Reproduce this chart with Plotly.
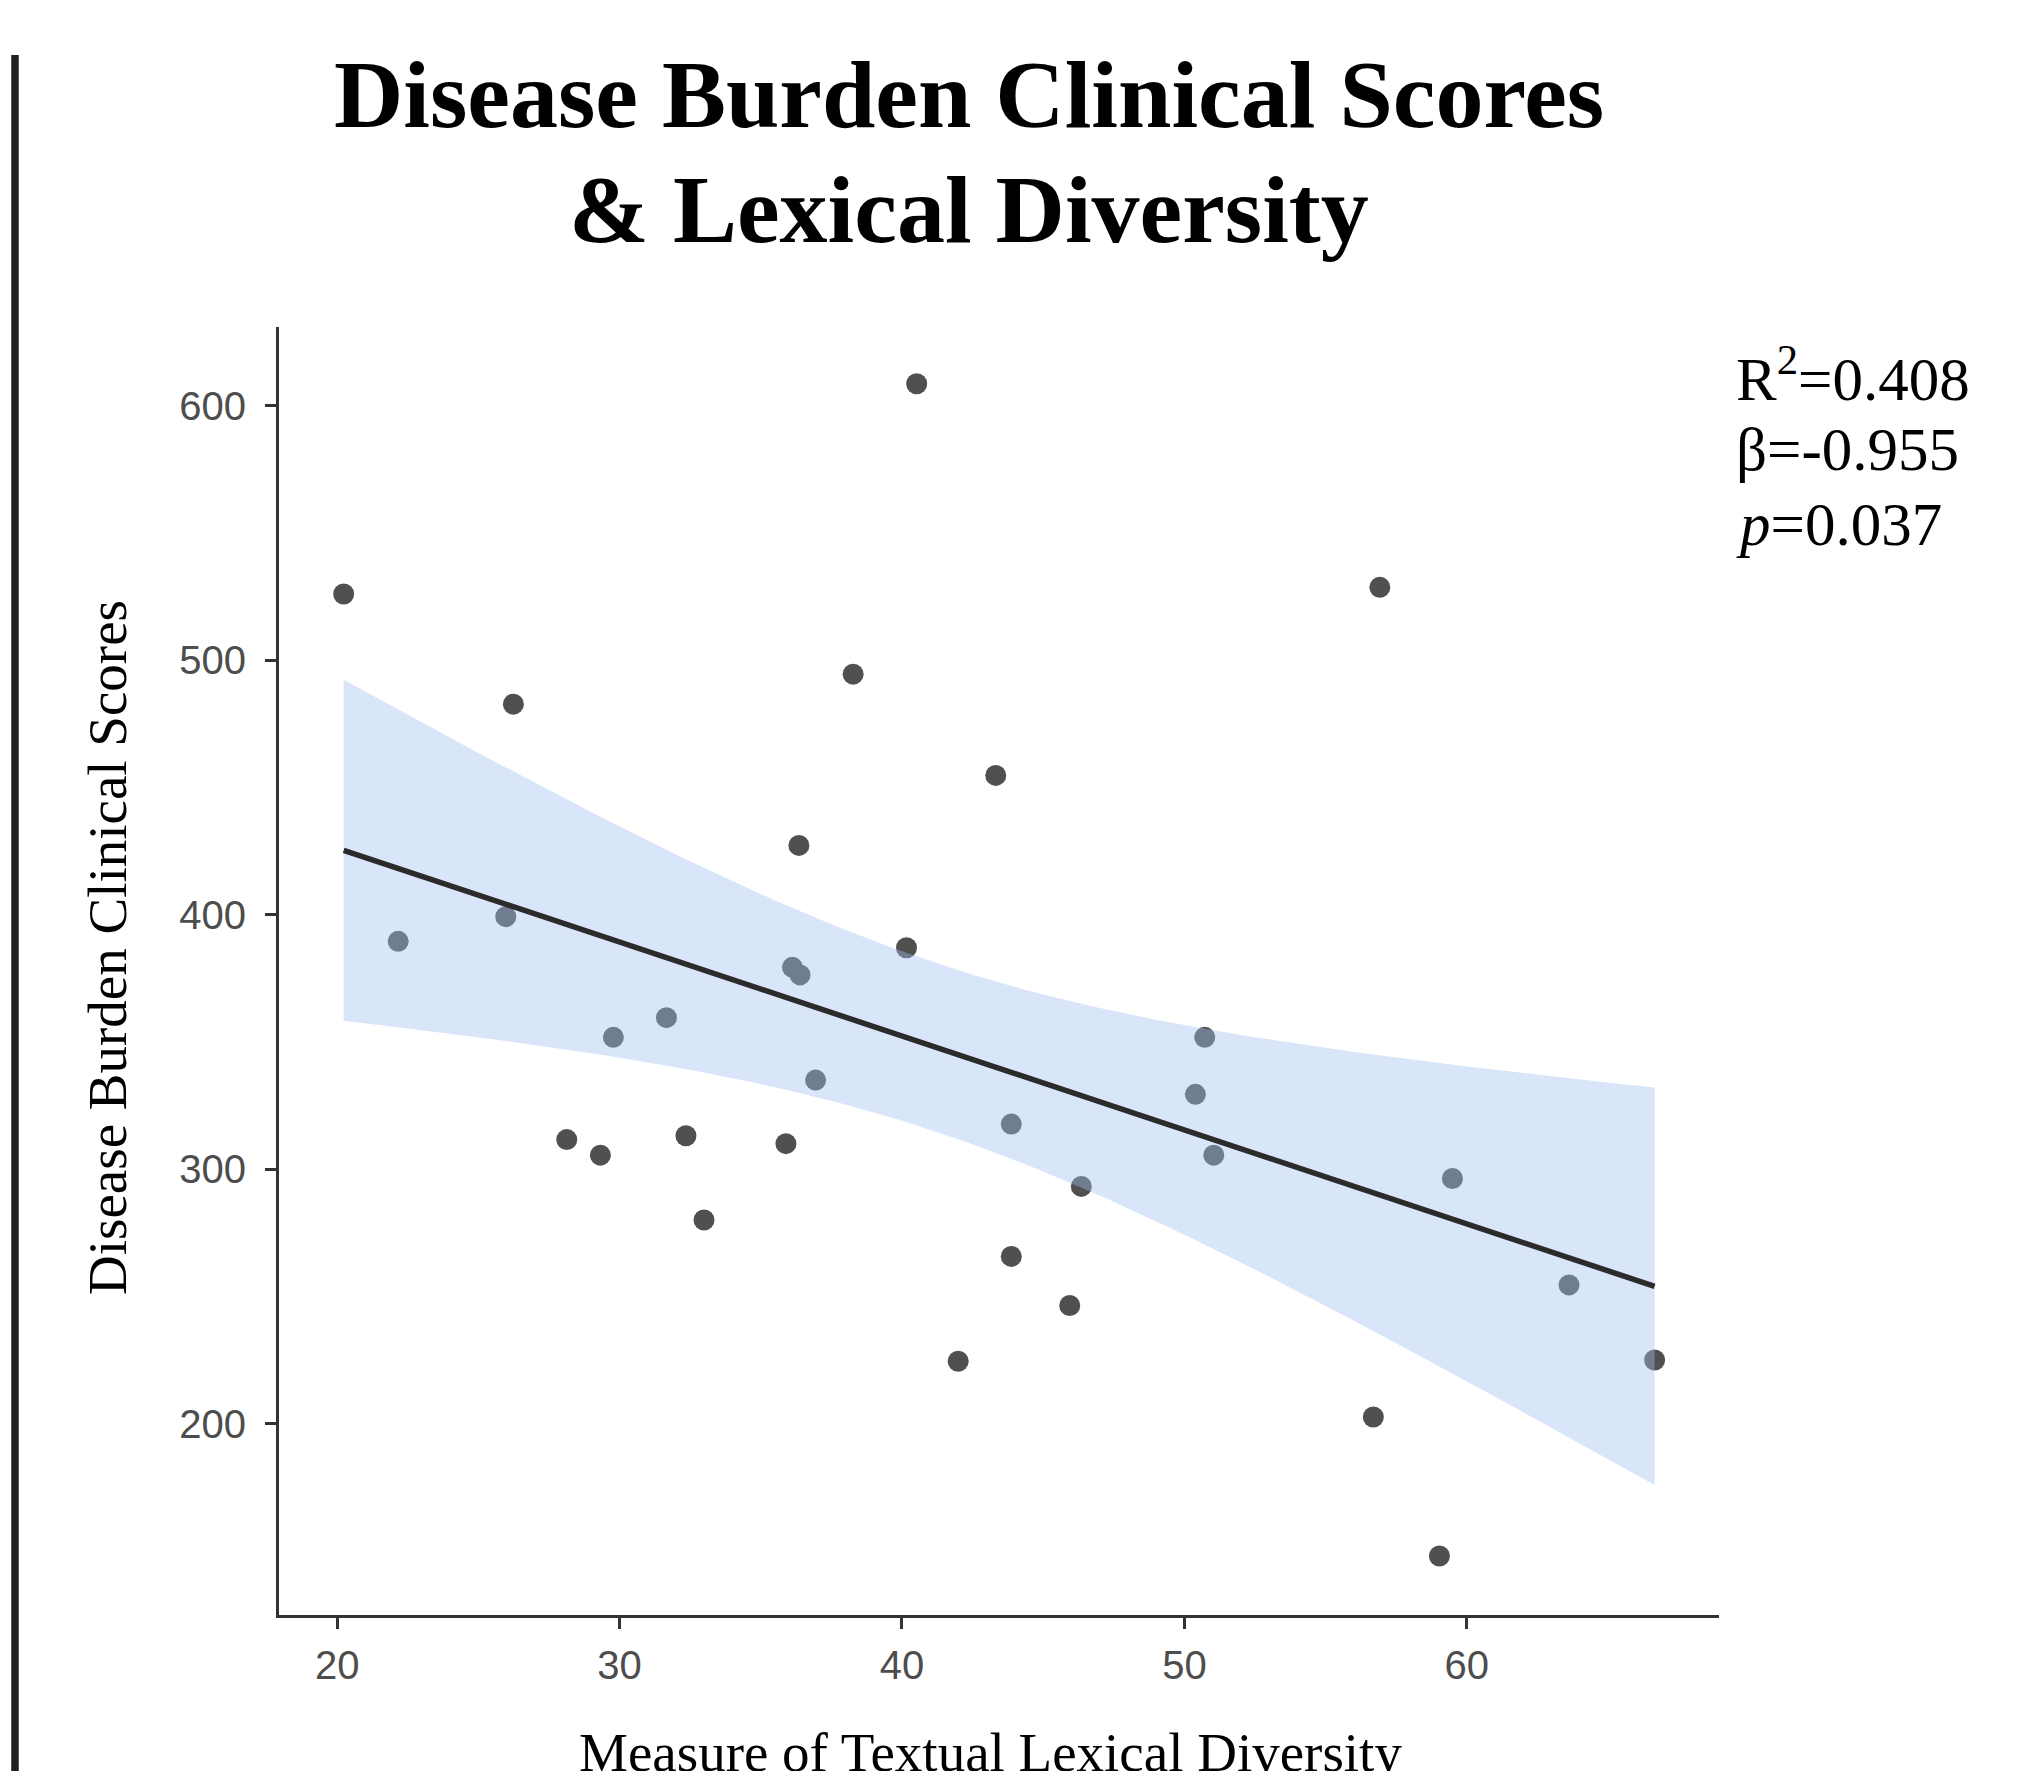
import numpy as np
import plotly.graph_objects as go

# ---- data ----
lexical_diversity = [20.23, 22.16, 26.24, 25.97, 28.13, 29.32, 29.78, 31.66, 32.35, 32.99,
                     35.89, 36.12, 36.39, 36.35, 36.94, 38.27, 40.16, 40.52, 41.99, 43.32,
                     43.87, 43.87, 45.94, 46.35, 50.39, 50.72, 51.04, 56.69, 56.92, 59.03,
                     59.49, 63.62, 66.65]
clinical_scores = [526.1, 389.6, 482.8, 399.3, 311.7, 305.6, 351.9, 359.6, 313.2, 280.1,
                   310.1, 379.4, 376.4, 427.3, 335.1, 494.6, 387.1, 608.7, 224.6, 454.8,
                   265.8, 317.8, 246.5, 293.3, 329.5, 351.9, 305.6, 202.7, 528.7, 148.1,
                   296.4, 254.6, 225.1]
x_ticks = [20, 30, 40, 50, 60]
y_ticks = [200, 300, 400, 500, 600]
stats_lines = ["R<sup>2</sup>=0.408", "β=-0.955", "<i>p</i>=0.037"]
title_lines = ["Disease Burden Clinical Scores", "& Lexical Diversity"]
x_title = "Measure of Textual Lexical Diversity"
y_title = "Disease Burden Clinical Scores"

# ---- linear fit with 95% confidence band (as geom_smooth(method='lm')) ----
x = np.array(lexical_diversity)
y = np.array(clinical_scores)
n = len(x)
slope, intercept = np.polyfit(x, y, 1)
resid = y - (slope * x + intercept)
s = np.sqrt(np.sum(resid ** 2) / (n - 2))
sxx = np.sum((x - x.mean()) ** 2)
t_crit = 2.0395  # t(0.975, df=31)
xg = np.linspace(x.min(), x.max(), 80)
yg = slope * xg + intercept
se = s * np.sqrt(1.0 / n + (xg - x.mean()) ** 2 / sxx)
upper = yg + t_crit * se
lower = yg - t_crit * se

# ---- layout geometry (page pixels; the page body adds an 8px offset) ----
W, H = 2033, 1771
OFF = 8
PL, PT, PW, PH = 279, 327, 1440, 1288          # plot area on the page
ML, MT = PL - OFF, PT - OFF
MR, MB = W - ML - PW, H - MT - PH

def px(xpage):
    return (xpage - PL) / PW

def py(ypage):
    return (PT + PH - ypage) / PH

SERIF = "Liberation Serif, Times New Roman, serif"

fig = go.Figure()
fig.add_trace(go.Scatter(x=x, y=y, mode="markers",
                         marker=dict(size=21, color="#505050", line=dict(width=0)),
                         showlegend=False, hoverinfo="x+y"))
fig.add_trace(go.Scatter(x=np.concatenate([xg, xg[::-1]]),
                         y=np.concatenate([upper, lower[::-1]]),
                         fill="toself", fillcolor="rgba(160,190,238,0.4)",
                         line=dict(width=0), mode="lines",
                         showlegend=False, hoverinfo="skip"))
fig.add_trace(go.Scatter(x=xg, y=yg, mode="lines",
                         line=dict(color="#2b2b2b", width=5.5),
                         showlegend=False, hoverinfo="skip"))

axis_common = dict(showgrid=False, zeroline=False, showline=True, linecolor="#333333",
                   linewidth=3, ticks="outside", ticklen=11, tickwidth=3,
                   tickcolor="#333333",
                   tickfont=dict(family="Liberation Sans, Arial, sans-serif", size=40,
                                 color="#4d4d4d"))

fig.update_xaxes(range=[17.94, 68.93], tickvals=x_ticks, ticklabelstandoff=2, **axis_common)
fig.update_yaxes(range=[124.9, 631.0], tickvals=y_ticks, ticklabelstandoff=11, **axis_common)

annotations = []
for i, line in enumerate(title_lines):
    baseline = 135 + i * 115
    annotations.append(dict(text="<b>" + line + "</b>", xref="paper", yref="paper",
                            x=px(969), y=py(baseline - 0.42 * 96),
                            xanchor="center", yanchor="middle", showarrow=False,
                            font=dict(family=SERIF, size=96, color="black")))
for i, line in enumerate(stats_lines):
    baseline = 400 + i * 75
    annotations.append(dict(text=line, xref="paper", yref="paper", x=px(1734),
                            y=py(baseline - 0.42 * 61), xanchor="left", yanchor="middle",
                            showarrow=False,
                            font=dict(family=SERIF, size=61, color="black")))
annotations.append(dict(text=x_title, xref="paper", yref="paper", x=px(990.6), y=py(1752),
                        xanchor="center", yanchor="middle", showarrow=False,
                        font=dict(family=SERIF, size=55, color="black")))
annotations.append(dict(text=y_title, xref="paper", yref="paper", x=px(108), y=py(948),
                        xanchor="center", yanchor="middle", textangle=-90, showarrow=False,
                        font=dict(family=SERIF, size=55, color="black")))

fig.update_layout(
    width=W, height=H,
    margin=dict(l=ML, r=MR, t=MT, b=MB),
    paper_bgcolor="white", plot_bgcolor="white",
    annotations=annotations,
    shapes=[dict(type="line", xref="paper", yref="paper", x0=px(15), x1=px(15),
                 y0=py(55), y1=py(H + 20), line=dict(color="#231f20", width=7.5))],
)

fig.write_html("out.html")
